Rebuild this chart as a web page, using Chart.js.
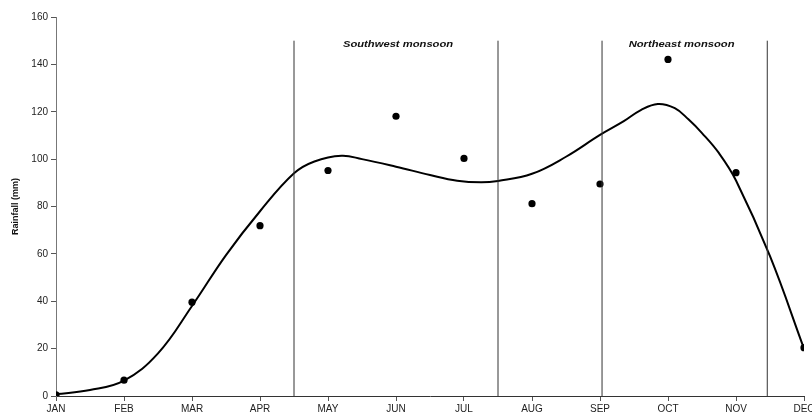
<!DOCTYPE html>
<html>
<head>
<meta charset="utf-8">
<script src="https://cdn.jsdelivr.net/npm/chart.js@4.4.0/dist/chart.umd.min.js"></script>
<style>
  html, body { margin: 0; padding: 0; background: #fff; overflow: hidden; }
  #wrap { width: 812px; height: 414px; position: relative; }
</style>
</head>
<body>
<div id="wrap"><canvas id="rainChart"></canvas></div>
<script>
// month labels along the x axis (index = month position)
var MONTHS = ['JAN', 'FEB', 'MAR', 'APR', 'MAY', 'JUN', 'JUL', 'AUG', 'SEP', 'OCT', 'NOV', 'DEC'];

// monthly rainfall (mm), the black dots
var RAINFALL = [0.5, 6.7, 39.6, 71.9, 95.2, 118.1, 100.3, 81.2, 89.5, 142.1, 94.3, 20.4];

// smoothed trend curve
var TREND_X = [0, 0.5, 1, 1.5, 2, 2.5, 3, 3.5, 3.8, 4.2, 4.5, 5, 5.5, 5.9, 6.25, 6.5, 7, 7.5, 8, 8.35, 8.6, 8.85, 9.1, 9.3, 9.5, 9.75, 10, 10.5, 11];
var TREND_Y = [0.8, 2.5, 6.5, 18, 38, 59.5, 78, 94, 99, 101.4, 100, 96.8, 93.3, 90.9, 90.2, 90.8, 93.8, 101, 110.2, 116, 120.7, 123.3, 121.5, 116.8, 111, 102.5, 91, 59, 20];

// season boundaries (month position) and how high they go
var SEASON_LINES = [3.5, 6.5, 8.03, 10.46];
var SEASON_TOP = 150;

// season captions
var SEASON_NAMES = ['Southwest monsoon', 'Northeast monsoon'];
var SEASON_NAME_X = [5.03, 9.2];
var SEASON_NAME_Y = 148.3;

Chart.defaults.font.family = "'Liberation Sans', Arial, sans-serif";
Chart.defaults.color = '#222';

var datasets = [];

SEASON_LINES.forEach(function (x) {
  datasets.push({
    data: [{ x: x, y: 0 }, { x: x, y: SEASON_TOP }],
    showLine: true,
    borderColor: '#333',
    borderWidth: 1,
    pointRadius: 0
  });
});

datasets.push({
  data: TREND_X.map(function (x, i) { return { x: x, y: TREND_Y[i] }; }),
  showLine: true,
  borderColor: '#000',
  borderWidth: 2,
  pointRadius: 0,
  tension: 0.4
});

datasets.push({
  data: RAINFALL.map(function (v, i) { return { x: i, y: v }; }),
  showLine: false,
  backgroundColor: '#000',
  borderColor: '#000',
  borderWidth: 0,
  pointRadius: 3.6
});

// captions over the two monsoon bands
var seasonCaptions = {
  id: 'seasonCaptions',
  afterDatasetsDraw: function (chart) {
    var ctx = chart.ctx;
    var xs = chart.scales.x, ys = chart.scales.y;
    ctx.save();
    ctx.fillStyle = '#111';
    ctx.font = "italic bold 9.5px 'Liberation Sans', Arial, sans-serif";
    ctx.textAlign = 'center';
    ctx.textBaseline = 'middle';
    SEASON_NAMES.forEach(function (name, i) {
      ctx.save();
      ctx.translate(xs.getPixelForValue(SEASON_NAME_X[i]), ys.getPixelForValue(SEASON_NAME_Y));
      ctx.scale(1.18, 1);
      ctx.fillText(name, 0, 0);
      ctx.restore();
    });
    ctx.restore();
  }
};

var ctx = document.getElementById('rainChart').getContext('2d');
var rainChart = new Chart(ctx, {
  type: 'scatter',
  data: { datasets: datasets },
  options: {
    responsive: true,
    maintainAspectRatio: false,
    animation: false,
    layout: { padding: { top: 17, right: 8, left: 0, bottom: 0 } },
    plugins: {
      legend: { display: false },
      tooltip: { enabled: false }
    },
    scales: {
      x: {
        type: 'linear',
        min: 0,
        max: 11,
        afterFit: function (scale) {
          scale.height = 18;
          scale.paddingRight = 0;
          scale.paddingLeft = 0;
        },
        grid: { drawOnChartArea: false, tickLength: 5, color: '#555' },
        border: { color: '#333' },
        ticks: {
          stepSize: 1,
          autoSkip: false,
          maxRotation: 0,
          padding: 2,
          font: { size: 10 },
          callback: function (v) { return MONTHS[v]; }
        }
      },
      y: {
        min: 0,
        max: 160,
        afterFit: function (scale) { scale.width = 56; },
        grid: { drawOnChartArea: false, tickLength: 5, color: '#555' },
        border: { color: '#777' },
        ticks: { stepSize: 20, padding: 3, font: { size: 10 } },
        title: {
          display: true,
          text: 'Rainfall (mm)',
          font: { size: 9, weight: 'bold' },
          color: '#111',
          padding: { top: 10, bottom: 0 }
        }
      }
    }
  },
  plugins: [seasonCaptions]
});
</script>
</body>
</html>
